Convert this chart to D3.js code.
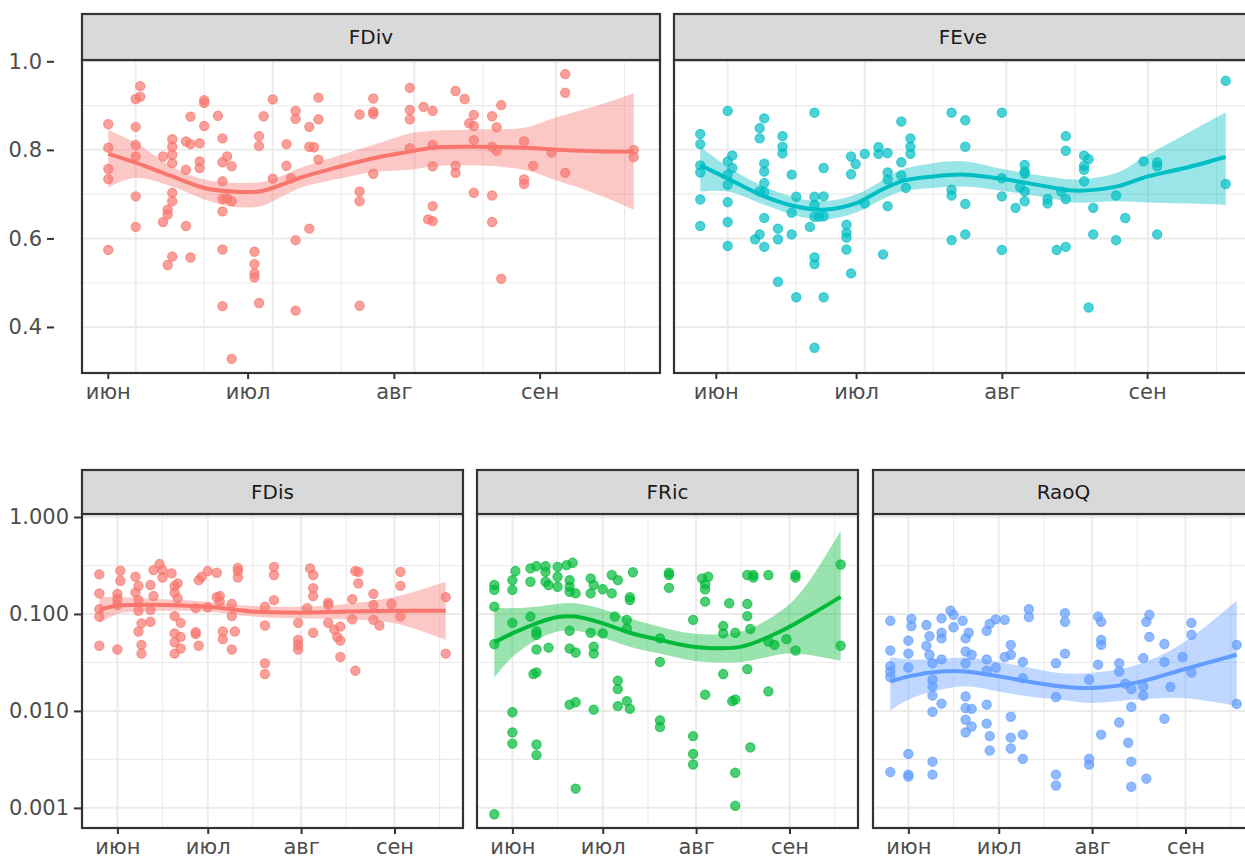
<!DOCTYPE html>
<html>
<head>
<meta charset="utf-8">
<script src="https://cdn.jsdelivr.net/npm/d3@7"></script>
<style>
  body { margin: 0; background: #fff; }
  svg text { font-family: "DejaVu Sans", "Liberation Sans", Arial, sans-serif; }
</style>
</head>
<body>
<svg id="chart" width="1245" height="859"></svg>
<script>
// ---- data: [day of year, [values...]] ----
const fdivPts = [
  [146, [0.858, 0.805, 0.757, 0.734, 0.574]],
  [152, [0.915, 0.852, 0.811, 0.785, 0.695, 0.626]],
  [153, [0.944, 0.920]],
  [158, [0.785, 0.637]],
  [159, [0.665, 0.654, 0.540]],
  [160, [0.824, 0.807, 0.789, 0.770, 0.703, 0.684, 0.559]],
  [163, [0.819, 0.755, 0.628]],
  [164, [0.813, 0.875, 0.557]],
  [166, [0.815, 0.774, 0.759]],
  [167, [0.912, 0.906, 0.854]],
  [170, [0.877]],
  [171, [0.826, 0.772, 0.729, 0.689, 0.661, 0.575, 0.447]],
  [172, [0.785, 0.691]],
  [173, [0.763, 0.684, 0.328]],
  [178, [0.570, 0.542, 0.521, 0.512]],
  [179, [0.454, 0.831, 0.809]],
  [180, [0.876]],
  [182, [0.914, 0.735]],
  [185, [0.813, 0.764]],
  [186, [0.736]],
  [187, [0.888, 0.870, 0.596, 0.437]],
  [190, [0.852, 0.807, 0.622]],
  [191, [0.806]],
  [192, [0.918, 0.869, 0.778]],
  [201, [0.880, 0.706, 0.684, 0.448]],
  [204, [0.916, 0.886, 0.881, 0.746]],
  [212, [0.940, 0.890, 0.869, 0.804]],
  [215, [0.897]],
  [216, [0.643]],
  [217, [0.888, 0.811, 0.763, 0.673, 0.639]],
  [222, [0.933, 0.764, 0.748]],
  [224, [0.915]],
  [225, [0.860]],
  [226, [0.879, 0.854, 0.822, 0.703]],
  [230, [0.876, 0.807, 0.697, 0.637]],
  [231, [0.851, 0.798]],
  [232, [0.901, 0.509]],
  [237, [0.819, 0.733, 0.723]],
  [239, [0.764]],
  [243, [0.794]],
  [246, [0.971, 0.929, 0.748]],
  [261, [0.800, 0.784]]
]

const fevePts = [
  [146, [0.836, 0.813, 0.765, 0.749, 0.688, 0.628]],
  [152, [0.888, 0.774, 0.744, 0.721, 0.682, 0.637, 0.583]],
  [153, [0.787, 0.759]],
  [158, [0.598]],
  [159, [0.849, 0.826, 0.706, 0.609]],
  [160, [0.871, 0.769, 0.751, 0.725, 0.704, 0.646, 0.581]],
  [163, [0.622, 0.598, 0.502]],
  [164, [0.831, 0.807, 0.792]],
  [166, [0.744, 0.658, 0.609]],
  [167, [0.694, 0.467]],
  [170, [0.626]],
  [171, [0.884, 0.694, 0.676, 0.649, 0.557, 0.542, 0.353]],
  [172, [0.649]],
  [173, [0.695, 0.650, 0.759, 0.467]],
  [178, [0.631, 0.613, 0.602, 0.575]],
  [179, [0.521, 0.785, 0.745]],
  [180, [0.768]],
  [182, [0.791, 0.679]],
  [185, [0.806, 0.791]],
  [186, [0.564]],
  [187, [0.793, 0.749, 0.733, 0.673]],
  [190, [0.864, 0.772, 0.742]],
  [191, [0.714]],
  [192, [0.826, 0.807, 0.791]],
  [201, [0.884, 0.710, 0.697, 0.596]],
  [204, [0.867, 0.807, 0.678, 0.609]],
  [212, [0.884, 0.736, 0.695, 0.574]],
  [215, [0.669]],
  [216, [0.716]],
  [217, [0.766, 0.751, 0.746, 0.706, 0.684]],
  [222, [0.689, 0.679]],
  [224, [0.574]],
  [225, [0.706]],
  [226, [0.831, 0.798, 0.689, 0.581]],
  [230, [0.787, 0.764, 0.755, 0.729]],
  [231, [0.779, 0.444]],
  [232, [0.669, 0.609]],
  [237, [0.697, 0.596]],
  [239, [0.646]],
  [243, [0.774]],
  [246, [0.772, 0.763, 0.609]],
  [261, [0.956, 0.723]]
]

const fdisPts = [
  [146, [0.256, 0.163, 0.112, 0.094, 0.047]],
  [152, [0.161, 0.142, 0.124, 0.043]],
  [153, [0.279, 0.220]],
  [158, [0.242, 0.166]],
  [159, [0.194, 0.139, 0.108, 0.066]],
  [160, [0.080, 0.048, 0.039]],
  [163, [0.199, 0.110, 0.083]],
  [164, [0.283, 0.153]],
  [166, [0.327]],
  [167, [0.283, 0.238]],
  [170, [0.262]],
  [171, [0.194, 0.166, 0.095, 0.063, 0.051, 0.039]],
  [172, [0.207, 0.145]],
  [173, [0.081, 0.058, 0.044]],
  [178, [0.115, 0.065, 0.062]],
  [179, [0.223, 0.047]],
  [180, [0.242]],
  [182, [0.277, 0.117]],
  [185, [0.266, 0.149]],
  [186, [0.153, 0.134]],
  [187, [0.066, 0.055]],
  [190, [0.127, 0.095, 0.043]],
  [191, [0.066]],
  [192, [0.299, 0.277, 0.238]],
  [201, [0.119, 0.076, 0.031, 0.024]],
  [204, [0.306, 0.252, 0.139]],
  [212, [0.081, 0.054, 0.048, 0.043]],
  [215, [0.115]],
  [216, [0.295]],
  [217, [0.252, 0.184, 0.153, 0.064]],
  [222, [0.131, 0.124, 0.081]],
  [224, [0.069]],
  [225, [0.058]],
  [226, [0.074, 0.053, 0.036]],
  [230, [0.142, 0.088]],
  [231, [0.277, 0.026]],
  [232, [0.272, 0.207]],
  [237, [0.161, 0.124, 0.087]],
  [239, [0.076]],
  [243, [0.127]],
  [246, [0.272, 0.195, 0.094]],
  [261, [0.149, 0.039]]
]

const fricPts = [
  [146, [0.199, 0.177, 0.119, 0.049, 0.00086]],
  [152, [0.223, 0.177, 0.081, 0.0097, 0.0060, 0.0046]],
  [153, [0.277]],
  [158, [0.295, 0.215, 0.094]],
  [159, [0.024]],
  [160, [0.311, 0.066, 0.061, 0.043, 0.025, 0.0045, 0.0035]],
  [163, [0.311, 0.272, 0.215]],
  [164, [0.199, 0.045]],
  [167, [0.306, 0.242, 0.191]],
  [170, [0.319]],
  [171, [0.223, 0.191, 0.169, 0.067, 0.044, 0.0116]],
  [172, [0.337]],
  [173, [0.163, 0.040, 0.0123, 0.00158]],
  [178, [0.233, 0.163, 0.064]],
  [179, [0.199, 0.046, 0.039, 0.0103]],
  [182, [0.180, 0.063]],
  [185, [0.252, 0.163]],
  [186, [0.094]],
  [187, [0.223, 0.0205, 0.0168, 0.0112]],
  [190, [0.087, 0.071, 0.0126]],
  [191, [0.149, 0.139, 0.0105]],
  [192, [0.269]],
  [201, [0.056, 0.032, 0.0080, 0.0068]],
  [204, [0.266, 0.252, 0.186]],
  [212, [0.087, 0.0055, 0.0036, 0.0028]],
  [215, [0.233]],
  [216, [0.203, 0.180, 0.134, 0.0147]],
  [217, [0.242]],
  [222, [0.075, 0.063, 0.024]],
  [224, [0.129]],
  [225, [0.0126]],
  [226, [0.064, 0.0131, 0.0023, 0.00105]],
  [230, [0.252, 0.127, 0.095, 0.027]],
  [231, [0.070, 0.0042]],
  [232, [0.252, 0.238]],
  [237, [0.252, 0.052, 0.0159]],
  [239, [0.048]],
  [243, [0.055]],
  [246, [0.252, 0.238, 0.042]],
  [261, [0.324, 0.047]]
]

const raoqPts = [
  [146, [0.085, 0.042, 0.029, 0.0255, 0.0224, 0.00234]],
  [152, [0.053, 0.039, 0.028, 0.0036, 0.0022, 0.0021]],
  [153, [0.089, 0.075]],
  [158, [0.077, 0.047]],
  [159, [0.059, 0.038]],
  [160, [0.031, 0.021, 0.0179, 0.0144, 0.0098, 0.0030, 0.0022]],
  [163, [0.090, 0.064, 0.056, 0.034, 0.0119]],
  [166, [0.108]],
  [167, [0.098, 0.073]],
  [170, [0.085]],
  [171, [0.056, 0.041, 0.031, 0.0141, 0.0107, 0.0081, 0.0060]],
  [172, [0.064]],
  [173, [0.038, 0.0105, 0.0069]],
  [178, [0.067, 0.034, 0.026, 0.0116, 0.0074]],
  [179, [0.079, 0.0055, 0.0039]],
  [181, [0.088, 0.028]],
  [184, [0.087, 0.036]],
  [186, [0.048, 0.038, 0.0087, 0.0053, 0.0041]],
  [190, [0.032, 0.0218, 0.0057, 0.0032]],
  [192, [0.112, 0.093]],
  [201, [0.031, 0.0139, 0.0022, 0.0017]],
  [204, [0.102, 0.083, 0.039]],
  [212, [0.021, 0.0032, 0.0028]],
  [215, [0.094, 0.030]],
  [216, [0.083, 0.054, 0.048, 0.0057]],
  [222, [0.031, 0.0255, 0.0076]],
  [224, [0.0191]],
  [225, [0.0047]],
  [226, [0.0168, 0.0110, 0.0030, 0.00165]],
  [230, [0.035, 0.0179, 0.0144]],
  [231, [0.083, 0.0020]],
  [232, [0.098, 0.058]],
  [237, [0.049, 0.032, 0.0083]],
  [239, [0.0177]],
  [243, [0.036]],
  [246, [0.081, 0.061, 0.0249]],
  [261, [0.048, 0.0118]]
]

// smoother: [day, fit, lower, upper]
const fdivFit = [
  [146, 0.791, 0.715, 0.845], [152, 0.771, 0.737, 0.816], [160, 0.740, 0.717, 0.762],
  [167, 0.714, 0.688, 0.733], [173, 0.706, 0.672, 0.726], [179, 0.706, 0.672, 0.727],
  [182, 0.714, 0.684, 0.733], [188, 0.737, 0.714, 0.759], [197, 0.763, 0.736, 0.789],
  [204, 0.781, 0.750, 0.811], [212, 0.796, 0.755, 0.837], [217, 0.805, 0.763, 0.843],
  [226, 0.807, 0.765, 0.846], [237, 0.805, 0.755, 0.850], [243, 0.801, 0.735, 0.870],
  [253, 0.797, 0.700, 0.900], [261, 0.796, 0.665, 0.928]
]
const feveFit = [
  [146, 0.766, 0.706, 0.807], [152, 0.735, 0.706, 0.762], [160, 0.695, 0.676, 0.717],
  [167, 0.672, 0.651, 0.692], [173, 0.665, 0.643, 0.684], [180, 0.679, 0.658, 0.699],
  [185, 0.706, 0.684, 0.726], [190, 0.729, 0.706, 0.755], [197, 0.740, 0.714, 0.770],
  [204, 0.744, 0.717, 0.774], [213, 0.733, 0.706, 0.755], [222, 0.717, 0.692, 0.740],
  [228, 0.708, 0.681, 0.733], [237, 0.717, 0.684, 0.748], [244, 0.740, 0.681, 0.789],
  [252, 0.759, 0.679, 0.834], [261, 0.784, 0.676, 0.885]
]
const fdisFit = [
  [146, 0.110, 0.080, 0.149], [152, 0.122, 0.100, 0.150], [158, 0.124, 0.106, 0.146],
  [167, 0.124, 0.108, 0.142], [182, 0.119, 0.106, 0.134], [197, 0.106, 0.094, 0.121],
  [212, 0.103, 0.090, 0.119], [228, 0.106, 0.088, 0.127], [244, 0.108, 0.080, 0.150],
  [261, 0.108, 0.054, 0.215]
]
const fricFit = [
  [146, 0.051, 0.022, 0.115], [152, 0.063, 0.036, 0.115], [160, 0.080, 0.054, 0.119],
  [167, 0.093, 0.066, 0.127], [173, 0.094, 0.067, 0.129], [182, 0.080, 0.057, 0.112],
  [191, 0.064, 0.046, 0.090], [201, 0.054, 0.039, 0.074], [212, 0.046, 0.033, 0.063],
  [228, 0.046, 0.032, 0.066], [243, 0.071, 0.039, 0.119], [250, 0.094, 0.038, 0.207],
  [261, 0.150, 0.033, 0.720]
]
const raoqFit = [
  [146, 0.0200, 0.0101, 0.0360], [152, 0.0227, 0.0131, 0.0340], [163, 0.0255, 0.0166, 0.0345],
  [171, 0.0255, 0.0180, 0.0356], [182, 0.0227, 0.0159, 0.0320], [192, 0.0200, 0.0141, 0.0280],
  [202, 0.0180, 0.0131, 0.0246], [212, 0.0172, 0.0121, 0.0246], [228, 0.0197, 0.0131, 0.0300],
  [243, 0.0266, 0.0136, 0.0500], [261, 0.0380, 0.0113, 0.1370]
]

// axis ticks
const monthLabels = ['июн', 'июл', 'авг', 'сен']
const monthStarts = [152, 182, 213, 244]
const monthMids = [167, 197, 228, 259]
const fdivTickDays = [145.9, 176.5, 208.5, 240.4]
const feveTickDays = [149.4, 180.1, 212.0, 243.8]
const linTicks = [0.4, 0.6, 0.8, 1.0]
const linMinor = [0.5, 0.7, 0.9]
const logTicks = [0.001, 0.01, 0.1, 1]
const logMinor = [0.00316, 0.0316, 0.316]

const colors = { red: '#F8766D', teal: '#00BFC4', green: '#00BA38', blue: '#619CFF' }

const rows = {
  top: {
    stripTop: 14, plotTop: 60, plotBottom: 373, axisX: 54,
    y: d3.scaleLinear().domain([0.296, 1.003]),
    ticks: linTicks, minor: linMinor, fmt: d3.format('.1f')
  },
  bottom: {
    stripTop: 470, plotTop: 514, plotBottom: 828, axisX: 81,
    y: d3.scaleLog().domain([0.00062, 1.074]),
    ticks: logTicks, minor: logMinor, fmt: d3.format('.3f')
  }
}
rows.top.y.range([rows.top.plotBottom, rows.top.plotTop])
rows.bottom.y.range([rows.bottom.plotBottom, rows.bottom.plotTop])

const panels = [
  { name: 'FDiv', pts: fdivPts, fit: fdivFit, color: colors.red, row: 'top', x0: 82, w: 578, yAxis: true, xTicks: fdivTickDays },
  { name: 'FEve', pts: fevePts, fit: feveFit, color: colors.teal, row: 'top', x0: 674, w: 578, yAxis: false, xTicks: feveTickDays },
  { name: 'FDis', pts: fdisPts, fit: fdisFit, color: colors.red, row: 'bottom', x0: 82, w: 381, yAxis: true, xTicks: monthStarts },
  { name: 'FRic', pts: fricPts, fit: fricFit, color: colors.green, row: 'bottom', x0: 477, w: 381, yAxis: false, xTicks: monthStarts },
  { name: 'RaoQ', pts: raoqPts, fit: raoqFit, color: colors.blue, row: 'bottom', x0: 873, w: 381, yAxis: false, xTicks: monthStarts }
]

const svg = d3.select('#chart')
const dayDomain = [140.25, 266.75]

panels.forEach((p, i) => {
  const r = rows[p.row]
  const y = r.y
  const x = d3.scaleLinear().domain(dayDomain).range([p.x0, p.x0 + p.w])
  const g = svg.append('g').attr('class', 'panel')
  const plotH = r.plotBottom - r.plotTop

  svg.append('clipPath').attr('id', 'clip' + i)
    .append('rect').attr('x', p.x0).attr('y', r.plotTop).attr('width', p.w).attr('height', plotH)

  g.append('rect')
    .attr('x', p.x0).attr('y', r.plotTop).attr('width', p.w).attr('height', plotH)
    .attr('fill', '#fff')

  // grid
  const grid = g.append('g').attr('clip-path', `url(#clip${i})`)
  grid.selectAll('.hmin').data(r.minor).join('line')
    .attr('x1', p.x0).attr('x2', p.x0 + p.w)
    .attr('y1', d => y(d)).attr('y2', d => y(d))
    .attr('stroke', '#EBEBEB').attr('stroke-width', 1.1)
  grid.selectAll('.vmin').data(monthMids).join('line')
    .attr('x1', d => x(d)).attr('x2', d => x(d))
    .attr('y1', r.plotTop).attr('y2', r.plotBottom)
    .attr('stroke', '#EBEBEB').attr('stroke-width', 1.1)
  grid.selectAll('.hmaj').data(r.ticks).join('line')
    .attr('x1', p.x0).attr('x2', p.x0 + p.w)
    .attr('y1', d => y(d)).attr('y2', d => y(d))
    .attr('stroke', '#EBEBEB').attr('stroke-width', 2)
  grid.selectAll('.vmaj').data(monthStarts).join('line')
    .attr('x1', d => x(d)).attr('x2', d => x(d))
    .attr('y1', r.plotTop).attr('y2', r.plotBottom)
    .attr('stroke', '#EBEBEB').attr('stroke-width', 2)

  const layer = g.append('g').attr('clip-path', `url(#clip${i})`)

  // points
  const flat = p.pts.flatMap(([day, vals]) => vals.map(v => ({ day, v })))
  layer.selectAll('circle').data(flat).join('circle')
    .attr('cx', d => x(d.day)).attr('cy', d => y(d.v)).attr('r', 4.6)
    .attr('fill', p.color).attr('fill-opacity', 0.7)
    .attr('stroke', p.color).attr('stroke-opacity', 0.7).attr('stroke-width', 1.2)

  // confidence band + smoother
  layer.append('path').datum(p.fit)
    .attr('d', d3.area().x(d => x(d[0])).y0(d => y(d[2])).y1(d => y(d[3])).curve(d3.curveCatmullRom))
    .attr('fill', p.color).attr('fill-opacity', 0.4)
  layer.append('path').datum(p.fit)
    .attr('d', d3.line().x(d => x(d[0])).y(d => y(d[1])).curve(d3.curveCatmullRom))
    .attr('fill', 'none').attr('stroke', p.color).attr('stroke-width', 4)

  // border
  g.append('rect')
    .attr('x', p.x0).attr('y', r.plotTop).attr('width', p.w).attr('height', plotH)
    .attr('fill', 'none').attr('stroke', '#333333').attr('stroke-width', 2.2)

  // strip
  g.append('rect')
    .attr('x', p.x0).attr('y', r.stripTop).attr('width', p.w).attr('height', r.plotTop - r.stripTop)
    .attr('fill', '#D9D9D9').attr('stroke', '#333333').attr('stroke-width', 2.2)
  g.append('text')
    .attr('x', p.x0 + p.w / 2).attr('y', (r.stripTop + r.plotTop) / 2)
    .attr('text-anchor', 'middle').attr('dominant-baseline', 'central')
    .attr('font-size', 20).attr('fill', '#1A1A1A')
    .text(p.name)

  // x axis
  const xAxis = g.append('g').attr('transform', `translate(0,${r.plotBottom + 1})`)
    .call(d3.axisBottom(x).tickValues(p.xTicks).tickSize(5).tickPadding(5)
      .tickFormat((d, k) => monthLabels[k]))
  xAxis.select('.domain').remove()
  xAxis.selectAll('line').attr('stroke', '#333333').attr('stroke-width', 2)
  xAxis.selectAll('text').attr('font-size', 21).attr('fill', '#4D4D4D')

  // y axis (the top row's labels sit a little away from the panel)
  if (p.yAxis) {
    const yAxis = g.append('g').attr('transform', `translate(${r.axisX},0)`)
      .call(d3.axisLeft(y).tickValues(r.ticks).tickSize(7).tickPadding(5).tickFormat(r.fmt))
    yAxis.select('.domain').remove()
    yAxis.selectAll('line').attr('stroke', '#333333').attr('stroke-width', 2)
    yAxis.selectAll('text').attr('font-size', 21).attr('fill', '#4D4D4D')
  }
})
</script>
</body>
</html>
